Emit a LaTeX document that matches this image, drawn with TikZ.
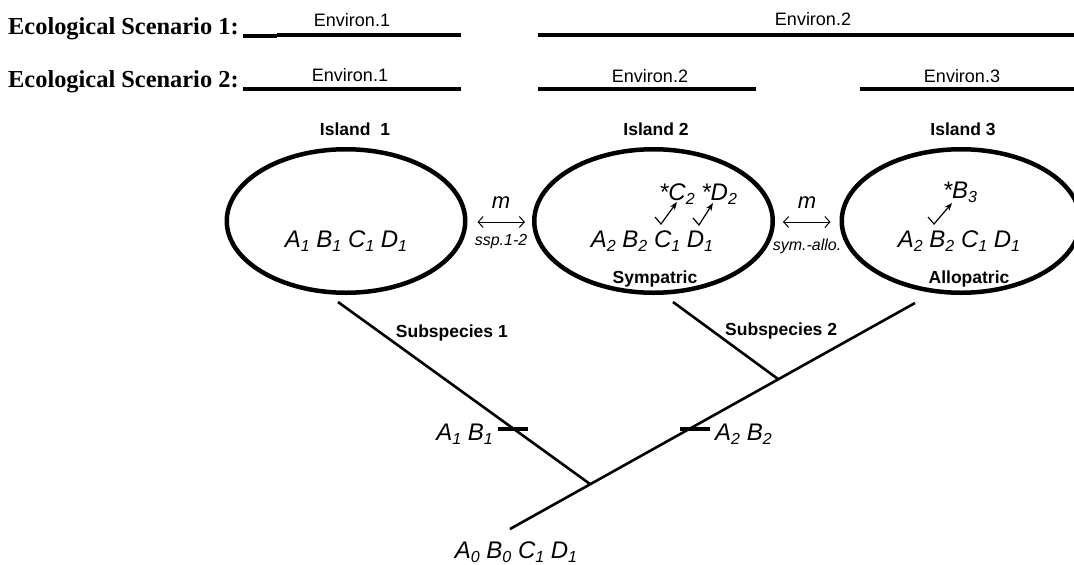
\documentclass[tikz,border=0pt]{standalone}
\usepackage{fontspec}
\setmainfont{Liberation Serif}
\setsansfont{Liberation Sans}
\usetikzlibrary{shapes.geometric,arrows.meta}
\newcommand\gn[2]{#1\raisebox{-0.2em}{\fontsize{16}{16}\selectfont #2}}
\begin{document}
\begin{tikzpicture}[x=1pt,y=-1pt,
  scen/.style={font=\rmfamily\bfseries\fontsize{24.4}{28}\selectfont, anchor=base west, inner sep=0},
  env/.style={font=\sffamily\fontsize{18}{20}\selectfont, anchor=base, inner sep=0},
  envline/.style={line width=3.3pt},
  isl/.style={ellipse, draw, line width=4.5pt, minimum width=238.5pt, minimum height=143.5pt, inner sep=0},
  lab/.style={font=\sffamily\bfseries\fontsize{17.5}{20}\selectfont, anchor=base, inner sep=0},
  gene/.style={font=\sffamily\itshape\fontsize{24}{28}\selectfont, anchor=base, inner sep=0},
  mig/.style={line width=1pt, {Straight Barb[length=5pt,width=11pt]}-{Straight Barb[length=5pt,width=11pt]}},
  mlab/.style={font=\sffamily\itshape\fontsize{22}{24}\selectfont, anchor=base, inner sep=0},
  smalllab/.style={font=\sffamily\itshape\fontsize{16}{18}\selectfont, anchor=base, inner sep=0},
  branch/.style={line width=2.6pt},
  barmark/.style={line width=4.5pt},
  mut/.style={line width=1.2pt, -{Stealth[length=8pt,width=6pt]}}]
\useasboundingbox (0,0) rectangle (1074,565);

% Ecological scenarios
\node[scen] (s1) at (8,34) {Ecological Scenario 1:};
\node[scen] (s2) at (8,87) {Ecological Scenario 2:};
\draw[line width=4pt] (243,35.5) -- (277,35.5);
\draw[envline] (277,35) -- (461,35);
\draw[envline] (538,35) -- (1074,35);
\node[env] (e11) at (352,26) {Environ.1};
\node[env] (e12) at (813,25) {Environ.2};
\draw[envline] (243,89) -- (461,89);
\draw[envline] (538,89) -- (756,89);
\draw[envline] (860,89) -- (1074,89);
\node[env] (e21) at (350,81) {Environ.1};
\node[env] (e22) at (650,82) {Environ.2};
\node[env] (e23) at (962,82) {Environ.3};

% Islands
\node[lab] (l1) at (355,135) {Island\ \ 1};
\node[lab] (l2) at (656,135) {Island 2};
\node[lab] (l3) at (963,135) {Island 3};
\node[isl] (I1) at (346,221) {};
\node[isl] (I2) at (653.5,221) {};
\node[isl] (I3) at (961,221) {};

\node[gene] (g1) at (346,247) {\gn{A}{1} \gn{B}{1} \gn{C}{1} \gn{D}{1}};
\node[gene] (g2) at (652,247) {\gn{A}{2} \gn{B}{2} \gn{C}{1} \gn{D}{1}};
\node[gene] (g3) at (959,247) {\gn{A}{2} \gn{B}{2} \gn{C}{1} \gn{D}{1}};
\node[gene] (n2) at (698,200) {\gn{*C}{2} \gn{*D}{2}};
\node[gene] (n3) at (960,198) {\gn{*B}{3}};
\draw[mut] (655,217) -- (661,224) -- (677,202);
\draw[mut] (693,218) -- (699,225) -- (713,203);
\draw[mut] (928,217) -- (934,224) -- (952,203);

\node[lab] (sym) at (655,283) {Sympatric};
\node[lab] (allo) at (969,283) {Allopatric};

% migration
\draw[mig] ([xshift=10pt,yshift=-1pt]I1.east) -- ([xshift=-7pt,yshift=-1pt]I2.west);
\node[mlab] (m1) at (501,208) {m};
\node[smalllab] (ssp) at (501,245) {ssp.1-2};
\draw[mig] ([xshift=8pt,yshift=-1pt]I2.east) -- ([xshift=-9pt,yshift=-1pt]I3.west);
\node[mlab] (m2) at (807,208) {m};
\node[smalllab] (sa) at (807,250) {sym.-allo.};

% tree
\coordinate (root) at (510,529);
\coordinate (tmain) at (915,303);
\coordinate (j1) at (590,484);
\coordinate (tl) at (338,302);
\coordinate (j2) at (778,379);
\coordinate (t2) at (673,302);
\draw[branch] (root) -- (tmain);
\draw[branch] (tl) -- (j1);
\draw[branch] (t2) -- (j2);
\draw[barmark] (498,429) -- (528,429);
\draw[barmark] (680,429) -- (710,429);
\node[lab, anchor=base east] (sub1) at (508,337) {Subspecies 1};
\node[lab, anchor=base west] (sub2) at (725,335) {Subspecies 2};
\node[gene, anchor=base east] (ab1) at (493,440) {\gn{A}{1} \gn{B}{1}};
\node[gene, anchor=base west] (ab2) at (715,440) {\gn{A}{2} \gn{B}{2}};
\node[gene] (anc) at (516,558) {\gn{A}{0} \gn{B}{0} \gn{C}{1} \gn{D}{1}};
\end{tikzpicture}
\end{document}
